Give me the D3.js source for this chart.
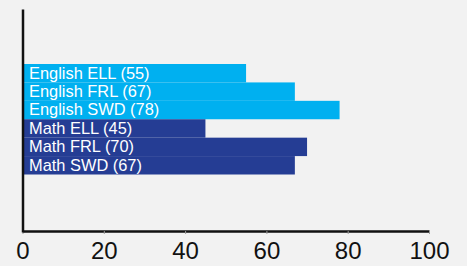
<!DOCTYPE html>
<html>
<head>
<meta charset="utf-8">
<script src="https://cdn.jsdelivr.net/npm/d3@7"></script>
<style>
  html, body { margin: 0; padding: 0; background: #f2f2f2; }
  svg { display: block; font-family: "Liberation Sans", Arial, sans-serif; }
</style>
</head>
<body>
<svg id="chart"></svg>
<script>
// data
const categories = ['English ELL', 'English FRL', 'English SWD', 'Math ELL', 'Math FRL', 'Math SWD'];
const values = [55, 67, 78, 45, 70, 67];
const subjects = ['English', 'English', 'English', 'Math', 'Math', 'Math'];
const xTicks = [0, 20, 40, 60, 80, 100];

const colors = { English: '#00b0f0', Math: '#253d94' };

const width = 467, height = 266;

const svg = d3.select('#chart')
    .attr('width', width)
    .attr('height', height);

svg.append('rect')
    .attr('width', width)
    .attr('height', height)
    .attr('fill', '#f2f2f2');

const xscale = d3.scaleLinear()
    .domain([0, 100])
    .range([22.5, 429]);

const yscale = d3.scaleBand()
    .domain(categories)
    .range([64, 174.5])
    .padding(0);

const rows = categories.map((c, i) => ({ name: c, value: values[i], subject: subjects[i] }));

// bars
svg.append('g')
    .selectAll('rect')
    .data(rows)
    .join('rect')
    .attr('x', xscale(0))
    .attr('y', d => yscale(d.name))
    .attr('width', d => xscale(d.value) - xscale(0))
    .attr('height', yscale.bandwidth())
    .attr('fill', d => colors[d.subject]);

// labels inside bars
svg.append('g')
    .selectAll('text')
    .data(rows)
    .join('text')
    .attr('x', xscale(0) + 6.5)
    .attr('y', d => yscale(d.name) + yscale.bandwidth() / 2)
    .attr('dy', '0.33em')
    .attr('fill', '#ffffff')
    .attr('font-size', 16.4)
    .text(d => `${d.name} (${d.value})`);

// x axis
const xaxis = d3.axisBottom(xscale)
    .tickValues(xTicks)
    .tickSizeInner(3)
    .tickSizeOuter(0)
    .tickPadding(7.5);

const xg = svg.append('g')
    .attr('transform', 'translate(0, 231)')
    .call(xaxis);
xg.select('.domain')
    .attr('stroke', '#111')
    .attr('stroke-width', 2.5);
xg.selectAll('.tick line')
    .attr('stroke', '#999');
xg.selectAll('.tick text')
    .attr('font-size', 24)
    .attr('font-family', '"Liberation Sans", Arial, sans-serif')
    .attr('fill', '#111');

// y axis (line only)
const yline = d3.scaleLinear().domain([0, 1]).range([232, 9]);
const yg = svg.append('g')
    .attr('transform', `translate(${xscale(0)}, 0)`)
    .call(d3.axisLeft(yline).tickValues([]).tickSizeOuter(0));
yg.select('.domain')
    .attr('stroke', '#111')
    .attr('stroke-width', 2.5);
</script>
</body>
</html>
